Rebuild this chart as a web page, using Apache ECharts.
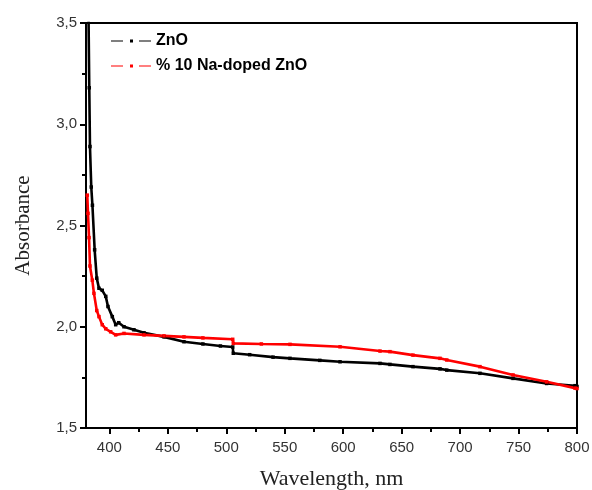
<!DOCTYPE html>
<html>
<head>
<meta charset="utf-8">
<script src="https://cdn.jsdelivr.net/npm/echarts@6/dist/echarts.min.js"></script>
<style>html,body{margin:0;padding:0;background:#fff}#c{width:592px;height:490px}</style>
</head>
<body>
<div id="c"></div>
<script>
const seriesNames = ['ZnO', '% 10 Na-doped ZnO'];
const xMajorTicks = [400, 450, 500, 550, 600, 650, 700, 750, 800];
const xMinorTicks = [425, 475, 525, 575, 625, 675, 725, 775];
const znoData = [
  [382.0, 3.62], [382.8, 3.18], [383.4, 2.89], [384.5, 2.69], [385.5, 2.60],
  [387.4, 2.38], [389.2, 2.24], [391.1, 2.19], [393.9, 2.18], [396.9, 2.15],
  [398.8, 2.10], [402.5, 2.05], [405.4, 2.01], [408.0, 2.02], [412.5, 2.00],
  [421.0, 1.985], [429.6, 1.97], [446.7, 1.95], [463.8, 1.926], [480.0, 1.915],
  [495.0, 1.905], [505.5, 1.90], [506.0, 1.869], [520.0, 1.862], [540.0, 1.85],
  [554.5, 1.844], [580.0, 1.834], [597.3, 1.827], [631.5, 1.819], [640.0, 1.814],
  [659.7, 1.803], [682.8, 1.792], [688.6, 1.786], [717.0, 1.77], [745.3, 1.745],
  [774.0, 1.72], [798.3, 1.709], [800.0, 1.705]
];
const naZnoData = [
  [381.1, 2.65], [381.7, 2.56], [382.6, 2.44], [383.4, 2.30], [385.4, 2.23],
  [386.8, 2.165], [389.2, 2.08], [391.1, 2.05], [393.9, 2.01], [396.9, 1.99],
  [401.1, 1.975], [405.4, 1.96], [412.5, 1.967], [429.6, 1.96], [446.7, 1.955],
  [463.8, 1.95], [480.0, 1.945], [505.5, 1.938], [506.0, 1.918], [530.0, 1.915],
  [554.5, 1.913], [597.3, 1.901], [631.5, 1.88], [640.0, 1.877], [659.7, 1.86],
  [682.8, 1.844], [688.6, 1.836], [717.0, 1.803], [745.3, 1.762], [774.0, 1.728],
  [798.3, 1.697], [800.0, 1.695]
];

const chart = echarts.init(document.getElementById('c'), null, {renderer: 'canvas'});
const labelFont = {fontFamily: 'Liberation Sans, Arial, sans-serif', fontSize: 15, color: '#333'};
const legendIcon = 'path://M0,0.9h12v1.2h-12z M19,0h3v3h-3z M28,0.9h12v1.2h-12z';
chart.setOption({
  animation: false,
  backgroundColor: '#fff',
  grid: {left: 86, right: 15, top: 23, bottom: 62, containLabel: false, outerBoundsMode: 'none',
         show: true, borderColor: '#000', borderWidth: 2, backgroundColor: 'transparent'},
  legend: {
    orient: 'vertical', left: 106, top: 27, itemWidth: 40, itemHeight: 3, itemGap: 7,
    icon: legendIcon,
    textStyle: {fontFamily: 'Liberation Sans, Arial, sans-serif', fontSize: 16, fontWeight: 'bold', color: '#000', lineHeight: 18},
    data: seriesNames
  },
  xAxis: [{
    type: 'value', min: 380, max: 800, position: 'bottom',
    name: 'Wavelength, nm', nameLocation: 'middle', nameGap: 40,
    nameTextStyle: {fontFamily: 'Liberation Serif, Times New Roman, serif', fontSize: 22, color: '#222'},
    axisLine: {lineStyle: {color: '#000', width: 2}},
    axisTick: {customValues: xMajorTicks, length: 6, lineStyle: {color: '#000', width: 2}},
    axisLabel: Object.assign({customValues: xMajorTicks, margin: 12}, labelFont),
    splitLine: {show: false}
  }, {
    type: 'value', min: 380, max: 800, position: 'top', offset: -405,
    axisLine: {show: false},
    axisTick: {customValues: xMinorTicks, inside: true, length: 4, lineStyle: {color: '#000', width: 2}},
    axisLabel: {show: false},
    splitLine: {show: false}
  }],
  yAxis: {
    type: 'value', min: 1.5, max: 3.5, interval: 0.5,
    name: 'Absorbance', nameLocation: 'middle', nameGap: 52,
    nameTextStyle: {fontFamily: 'Liberation Serif, Times New Roman, serif', fontSize: 21, color: '#222'},
    axisLine: {lineStyle: {color: '#000', width: 2}},
    axisTick: {length: 6, lineStyle: {color: '#000', width: 2}},
    minorTick: {show: true, splitNumber: 2, length: 4, lineStyle: {color: '#000', width: 2}},
    axisLabel: Object.assign({margin: 9, formatter: v => v.toFixed(1).replace('.', ',')}, labelFont),
    splitLine: {show: false}
  },
  series: [{
    name: seriesNames[0], type: 'line', data: znoData, xAxisIndex: 0, clip: true,
    symbol: 'rect', symbolSize: 3.5, showSymbol: true,
    itemStyle: {color: '#000'}, lineStyle: {color: '#000', width: 2.6}
  }, {
    name: seriesNames[1], type: 'line', data: naZnoData, xAxisIndex: 0, clip: true,
    symbol: 'rect', symbolSize: 3.5, showSymbol: true,
    itemStyle: {color: '#ff0000'}, lineStyle: {color: '#ff0000', width: 2.6}
  }]
});
</script>
</body>
</html>
